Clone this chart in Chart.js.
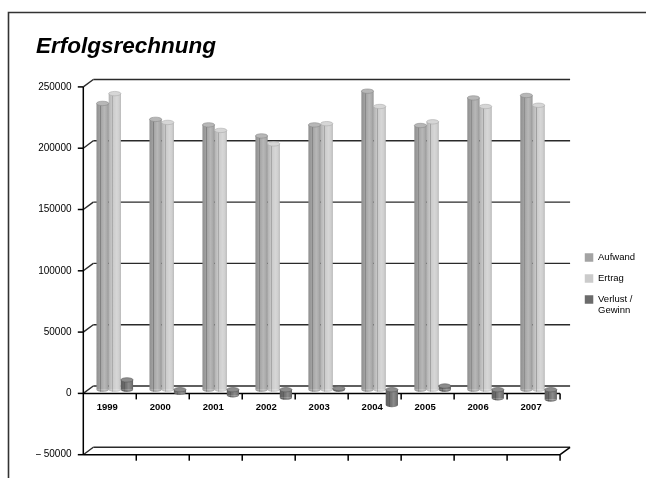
<!DOCTYPE html>
<html>
<head>
<meta charset="utf-8">
<style>
  html, body { margin: 0; padding: 0; background: #fff; }
  #wrap { width: 646px; height: 478px; }
</style>
<script src="https://cdn.jsdelivr.net/npm/chart.js@4.4.1/dist/chart.umd.min.js"></script>
</head>
<body>
<div id="wrap"><canvas id="c" width="646" height="478"></canvas></div>
<script>
// Erfolgsrechnung 1999–2007
const years = ['1999', '2000', '2001', '2002', '2003', '2004', '2005', '2006', '2007'];
const aufwand = [233500, 220500, 216000, 207000, 216000, 243500, 215500, 238000, 240000];
const ertrag = [241500, 218000, 211500, 200500, 217000, 231000, 218500, 231000, 232000];
const verlustGewinn = [8000, -2500, -4500, -6500, 1000, -12500, 3000, -7000, -8000];
const seriesNames = ['Aufwand', 'Ertrag', ['Verlust /', 'Gewinn']];
const seriesColors = ['#a3a3a3', '#cbcbcb', '#6b6b6b'];
const yMin = -50000, yMax = 250000, yStep = 50000;

const FONT = "'Liberation Sans', Arial, Helvetica, sans-serif";
// depth offsets: front plane (-X, +Y) and back wall (+X, -Y) around the bar plane
const DX = 5, DY = 3.7;

function line(ctx, x1, y1, x2, y2) {
  ctx.beginPath(); ctx.moveTo(x1, y1); ctx.lineTo(x2, y2); ctx.stroke();
}

function lighten(hex, f) {
  const n = parseInt(hex.slice(1), 16);
  const c = [(n >> 16) & 255, (n >> 8) & 255, n & 255].map(v => Math.round(v + (255 - v) * f));
  return 'rgb(' + c.join(',') + ')';
}
function darken(hex, f) {
  const n = parseInt(hex.slice(1), 16);
  const c = [(n >> 16) & 255, (n >> 8) & 255, n & 255].map(v => Math.round(v * (1 - f)));
  return 'rgb(' + c.join(',') + ')';
}

// outer frame of the chart object
const outerFrame = {
  id: 'outerFrame',
  beforeDraw(chart) {
    const ctx = chart.ctx;
    ctx.save();
    ctx.fillStyle = '#fff';
    ctx.fillRect(0, 0, chart.width, chart.height);
    ctx.strokeStyle = '#333';
    ctx.lineWidth = 1.6;
    ctx.beginPath();
    ctx.moveTo(8.5, chart.height);
    ctx.lineTo(8.5, 12.5);
    ctx.lineTo(chart.width, 12.5);
    ctx.stroke();
    ctx.restore();
  }
};

// pseudo-3D walls: back wall grid, front value axis, floor edges
const frame3d = {
  id: 'frame3d',
  beforeDatasetsDraw(chart) {
    const { ctx, chartArea: ca, scales: { x, y } } = chart;
    const L = ca.left, R = ca.right;
    const fy = v => y.getPixelForValue(v) + DY;
    const by = v => y.getPixelForValue(v) - DY;
    ctx.save();
    ctx.strokeStyle = '#2a2a2a';
    ctx.lineWidth = 1.4;
    y.ticks.forEach(t => {
      line(ctx, L - DX, fy(t.value), L + DX, by(t.value));
      line(ctx, L + DX, by(t.value), R + DX, by(t.value));
    });
    ctx.strokeStyle = '#000';
    ctx.lineWidth = 1.5;
    line(ctx, L - DX, fy(y.max), L - DX, fy(y.min));
    y.ticks.forEach(t => line(ctx, L - DX - 5.5, fy(t.value), L - DX, fy(t.value)));
    [0, y.min].forEach(v => {
      line(ctx, L - DX, fy(v), R - DX, fy(v));
      for (let k = 1; k <= x.ticks.length; k++) {
        const bx = x.getPixelForValue(k - 0.5) - DX;
        line(ctx, bx, fy(v), bx, fy(v) + 6);
      }
    });
    line(ctx, R - DX, fy(y.min), R + DX, by(y.min));
    ctx.restore();
  }
};

// cylinder shading and end caps on top of each bar
const cylinders = {
  id: 'cylinders',
  afterDatasetsDraw(chart) {
    const ctx = chart.ctx;
    chart.data.datasets.forEach((ds, di) => {
      const meta = chart.getDatasetMeta(di);
      const col = seriesColors[di];
      meta.data.forEach(bar => {
        const p = bar.getProps(['x', 'y', 'base', 'width'], true);
        const w = p.width, cx = p.x, left = cx - w / 2, right = cx + w / 2;
        const top = Math.min(p.y, p.base), bottom = Math.max(p.y, p.base);
        const ry = 2.2;
        const g = ctx.createLinearGradient(left, 0, right, 0);
        g.addColorStop(0, 'rgba(0,0,0,0.12)');
        g.addColorStop(0.27, 'rgba(0,0,0,0.02)');
        g.addColorStop(0.33, 'rgba(0,0,0,0.22)');
        g.addColorStop(0.40, 'rgba(255,255,255,0.04)');
        g.addColorStop(0.65, 'rgba(255,255,255,0.22)');
        g.addColorStop(0.85, 'rgba(255,255,255,0.08)');
        g.addColorStop(1, 'rgba(0,0,0,0.14)');
        ctx.save();
        // rounded lower end
        ctx.beginPath();
        ctx.ellipse(cx, bottom, w / 2, ry, 0, 0, Math.PI);
        ctx.fillStyle = col;
        ctx.fill();
        ctx.beginPath();
        ctx.rect(left, top, w, bottom - top);
        ctx.ellipse(cx, bottom, w / 2, ry, 0, 0, Math.PI);
        ctx.fillStyle = g;
        ctx.fill();
        // upper cap
        ctx.beginPath();
        ctx.ellipse(cx, top, w / 2, ry, 0, 0, Math.PI * 2);
        ctx.fillStyle = lighten(col, 0.22);
        ctx.fill();
        ctx.lineWidth = 0.6;
        ctx.strokeStyle = darken(col, 0.15);
        ctx.stroke();
        ctx.restore();
      });
    });
  }
};

new Chart(document.getElementById('c'), {
  type: 'bar',
  data: {
    labels: years,
    datasets: [
      { label: seriesNames[0], data: aufwand, backgroundColor: seriesColors[0] },
      { label: seriesNames[1], data: ertrag, backgroundColor: seriesColors[1] },
      { label: seriesNames[2], data: verlustGewinn, backgroundColor: seriesColors[2] }
    ]
  },
  options: {
    responsive: false,
    animation: false,
    devicePixelRatio: 1,
    events: [],
    layout: { padding: { left: 36, right: 1, top: 28, bottom: 27 } },
    datasets: { bar: { categoryPercentage: 0.69, barPercentage: 1, borderWidth: 0 } },
    scales: {
      x: {
        position: { y: 0 },
        grid: { display: false, drawTicks: false },
        border: { display: false },
        ticks: {
          padding: 12.3, labelOffset: -7.5, color: '#000', maxRotation: 0, autoSkip: false,
          font: { family: FONT, size: 9.5, weight: 'bold' }
        }
      },
      y: {
        min: yMin, max: yMax,
        grid: { display: false, drawTicks: false },
        border: { display: false },
        ticks: {
          stepSize: yStep, padding: 16.8, labelOffset: DY, color: '#000',
          font: { family: FONT, size: 10 },
          callback: v => v < 0 ? '\u2013 ' + Math.abs(v) : String(v)
        },
        afterFit(s) { s.width = 52.3; }
      },
      gap: {
        position: 'right',
        grid: { display: false, drawTicks: false },
        border: { display: false },
        ticks: { display: false },
        afterFit(s) { s.width = 8.2; }
      }
    },
    plugins: {
      title: {
        display: true, text: 'Erfolgsrechnung', align: 'start', color: '#000',
        font: { family: FONT, size: 22.5, weight: 'bold', style: 'italic', lineHeight: 1.2 },
        padding: { top: 5.5, bottom: 22.7 }
      },
      legend: {
        position: 'right', fullSize: false, align: 'center',
        title: { display: true, text: '', padding: { top: 26, bottom: 0 }, font: { size: 10, lineHeight: 1 } },
        labels: {
          boxWidth: 8.5, boxHeight: 8.5, padding: 11.5, color: '#000',
          font: { family: FONT, size: 9.5 }
        }
      },
      tooltip: { enabled: false }
    }
  },
  plugins: [outerFrame, frame3d, cylinders]
});
</script>
</body>
</html>
